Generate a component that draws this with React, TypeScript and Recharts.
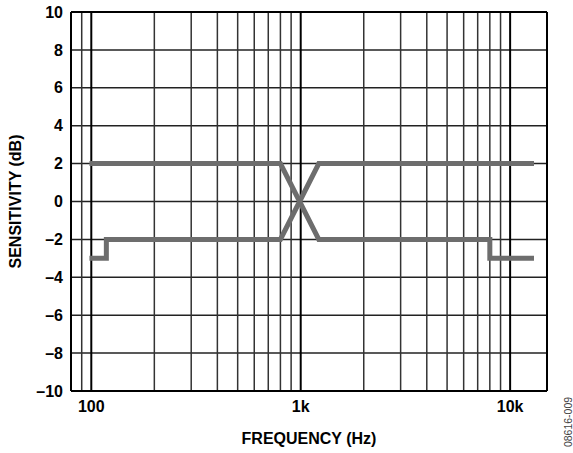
import React from "react"
import {
  LineChart,
  Line,
  XAxis,
  YAxis,
  CartesianGrid,
  ReferenceLine,
} from "recharts"

// sensitivity response, two curves (dB vs Hz)
const upperCurve = [
  { f: 98, v: 2 },
  { f: 800, v: 2 },
  { f: 1220, v: -2 },
  { f: 8000, v: -2 },
  { f: 8000, v: -3 },
  { f: 13000, v: -3 },
]

const lowerCurve = [
  { f: 98, v: -3 },
  { f: 118, v: -3 },
  { f: 118, v: -2 },
  { f: 800, v: -2 },
  { f: 1220, v: 2 },
  { f: 13000, v: 2 },
]

const xTicks = [100, 1000, 10000]
const yTicks = [-10, -8, -6, -4, -2, 0, 2, 4, 6, 8, 10]
const majorGrid = [100, 1000, 10000]
const minorGrid = [
  90, 200, 300, 400, 500, 600, 700, 800, 900, 2000, 3000, 4000, 5000, 6000,
  7000, 8000, 9000,
]

const font = '"Liberation Sans", Arial, sans-serif'
const tickStyle = { fontFamily: font, fontSize: 16, fontWeight: 700, fill: "#000" }

const fmtX = (v: number) => (v >= 10000 ? "10k" : v >= 1000 ? "1k" : String(v))
const fmtY = (v: number) => (v < 0 ? "\u2013" + Math.abs(v) : String(v))

export default function App() {
  return (
    <div style={{ position: "absolute", left: 0, top: 0, width: 573, height: 453, background: "#fff" }}>
      <LineChart width={573} height={453} margin={{ top: 12, right: 26, bottom: 0, left: 0 }}>
        <CartesianGrid vertical={false} stroke="#222" strokeWidth={1.5} />
        <XAxis
          dataKey="f"
          type="number"
          scale="log"
          domain={[80, 15000]}
          ticks={xTicks}
          tickFormatter={fmtX}
          allowDataOverflow
          axisLine={false}
          tickLine={false}
          tickMargin={4}
          height={62}
          tick={tickStyle}
          label={{
            value: "FREQUENCY (Hz)",
            position: "center",
            dy: 16,
            style: { fontFamily: font, fontSize: 16, fontWeight: 700, fill: "#000" },
          }}
        />
        <YAxis
          type="number"
          domain={[-10, 10]}
          ticks={yTicks}
          tickFormatter={fmtY}
          axisLine={false}
          tickLine={false}
          width={71}
          tick={tickStyle}
          label={{
            value: "SENSITIVITY (dB)",
            angle: -90,
            position: "center",
            dx: -20,
            style: { fontFamily: font, fontSize: 16, fontWeight: 700, fill: "#000", textAnchor: "middle" },
          }}
        />
        {minorGrid.map((f) => (
          <ReferenceLine key={"m" + f} x={f} stroke="#333" strokeWidth={1.5} />
        ))}
        {majorGrid.map((f) => (
          <ReferenceLine key={"M" + f} x={f} stroke="#000" strokeWidth={2} />
        ))}
        <ReferenceLine x={80} stroke="#000" strokeWidth={2} />
        <ReferenceLine x={15000} stroke="#000" strokeWidth={2} />
        <ReferenceLine y={10} stroke="#000" strokeWidth={2} />
        <ReferenceLine y={-10} stroke="#000" strokeWidth={2} />
        <Line
          data={upperCurve}
          dataKey="v"
          stroke="#6d6d6d"
          strokeWidth={5}
          dot={false}
          isAnimationActive={false}
        />
        <Line
          data={lowerCurve}
          dataKey="v"
          stroke="#6d6d6d"
          strokeWidth={5}
          dot={false}
          isAnimationActive={false}
        />
      </LineChart>
      <div
        style={{
          position: "absolute",
          left: 538,
          top: 416,
          width: 60,
          height: 12,
          lineHeight: "12px",
          textAlign: "center",
          transform: "rotate(-90deg)",
          fontFamily: font,
          fontSize: 10.5,
          color: "#444",
        }}
      >
        08616-009
      </div>
    </div>
  )
}
